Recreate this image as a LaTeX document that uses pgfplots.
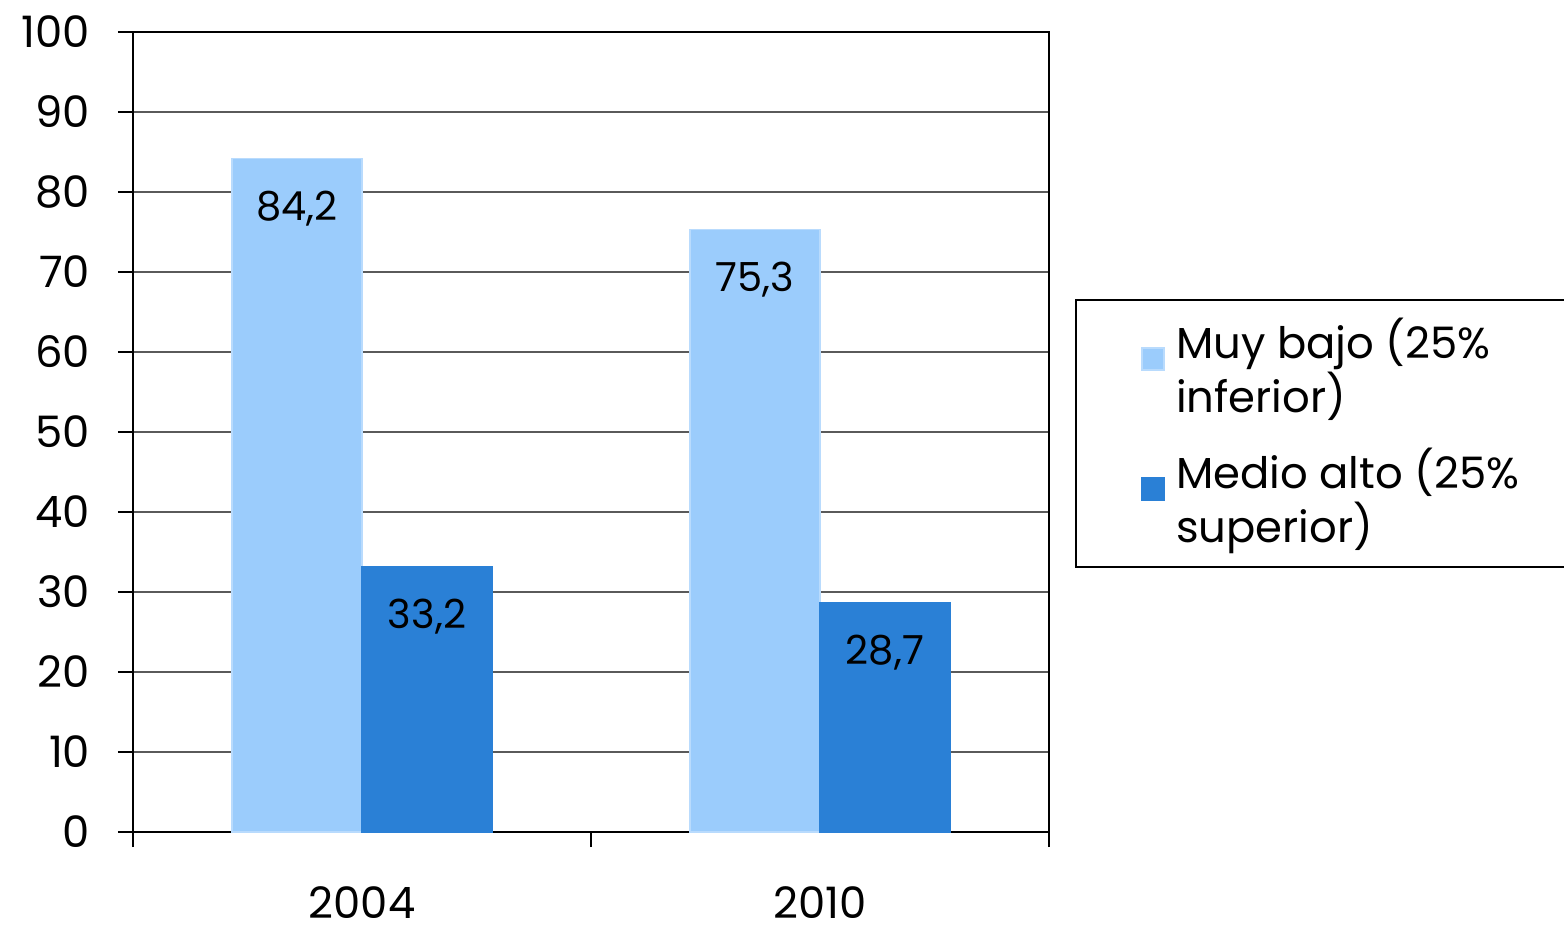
\documentclass[border=0pt]{standalone}
\usepackage{fontspec}
\setmainfont{Poppins}
\usepackage{pgfplots}
\pgfplotsset{compat=1.18}
\definecolor{lightb}{RGB}{155,204,252}
\definecolor{darkb}{RGB}{42,128,214}
\definecolor{gridc}{RGB}{90,90,90}
\begin{document}
\fontsize{12.5pt}{15pt}\selectfont
\begin{tikzpicture}
\useasboundingbox (-39.9pt,-29.4pt) rectangle (429.3pt,249.6pt);
\begin{axis}[
  at={(0pt,0pt)}, anchor=south west,
  width=274.8pt, height=240pt, scale only axis,
  xmin=0, xmax=2, ymin=0, ymax=100,
  xtick={0,1,2}, x tick label as interval, xticklabels={2004,2010},
  ytick={0,10,...,100},
  tick pos=left,
  tick align=outside, major tick length=4.5pt,
  ymajorgrids, grid style={gridc, line width=0.6pt},
  axis line style={black, line width=0.8pt},
  tick style={black, line width=0.6pt},
  ybar=0pt, bar width=39pt,
  /pgf/number format/assume math mode=true,
  ticklabel style={font=\fontsize{13pt}{15pt}\selectfont},
  x tick label style={yshift=-7.5pt},
  y tick label style={xshift=-4pt},
  nodes near coords,
  nodes near coords style={font=\fontsize{12pt}{14pt}\selectfont, anchor=center, yshift=-15pt,
     /pgf/number format/.cd, fixed, fixed zerofill, precision=1, use comma, assume math mode=true},
  legend style={at={(1.0284,0.66625)}, anchor=north west, draw=black, line width=0.6pt,
     font=\fontsize{13pt}{16pt}\selectfont, cells={anchor=west, align=left},
     inner xsep=14pt, inner ysep=3.5pt, row sep=5pt},
  legend image code/.code={\fill[#1] (5.5pt,-0.5pt) rectangle (12.1pt,6.1pt); \path (0pt,0pt) (13.4pt,0pt);},
]
\addplot[fill=lightb, draw=lightb!70!white] coordinates {(0.5,84.2) (1.5,75.3)};
\addplot[fill=darkb, draw=darkb] coordinates {(0.5,33.2) (1.5,28.7)};
\legend{Muy bajo (25\%\\inferior),Medio alto (25\%\\superior)}
\end{axis}
\end{tikzpicture}
\end{document}
